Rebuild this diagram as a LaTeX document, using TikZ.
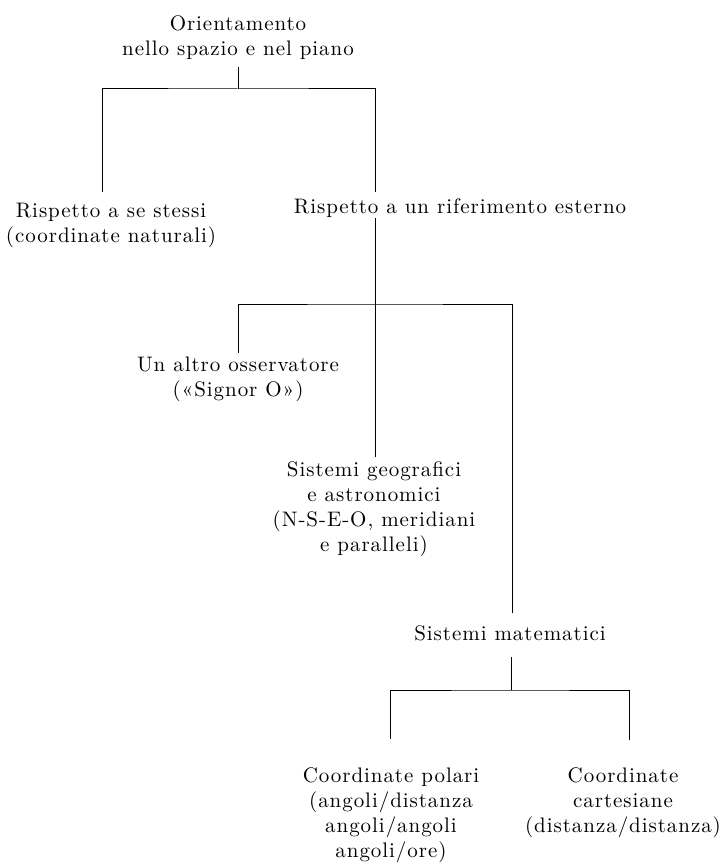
\documentclass[tikz,border=0pt]{standalone}
\usepackage{fontspec}
\setmainfont{lmroman10-regular.otf}[LetterSpace=4.5]

\begin{document}
\begin{tikzpicture}[x=1pt,y=-1pt,
	voce/.style={align=center,inner sep=0pt,font=\fontsize{21}{25}\selectfont},
	ramo/.style={line width=1pt}]
	\useasboundingbox (0,0) rectangle (722,864);

	\node[voce] (orient) at (238,38) {Orientamento\\nello spazio e nel piano};
	\node[voce] (sestessi) at (111,225) {Rispetto a se stessi\\(coordinate naturali)};
	\node[voce] (esterno) at (460,208) {Rispetto a un riferimento esterno};
	\node[voce] (signor) at (238,379) {Un altro osservatore\\(«Signor O»)};
	\node[voce] (geo) at (374,509) {Sistemi geografici\\e astronomici\\(N-S-E-O, meridiani\\e paralleli)};
	\node[voce] (mat) at (510,633) {Sistemi matematici};
	\node[voce] (polari) at (391,815) {Coordinate polari\\(angoli/distanza\\angoli/angoli\\angoli/ore)};
	\node[voce] (cartes) at (623,803) {Coordinate\\cartesiane\\(distanza/distanza)};

	% snodi e capi dei rami
	\coordinate (o1) at (238,67);
	\coordinate (b1) at (238,89);
	\coordinate (sxleg) at (102,192);
	\coordinate (dxleg) at (375,192);
	\coordinate (dxtop) at (375,218);
	\coordinate (b2) at (375,304);
	\coordinate (geoend) at (375,457);
	\coordinate (sigleg) at (238,353);
	\coordinate (matleg) at (512,613);
	\coordinate (mattop) at (511,657);
	\coordinate (b3) at (511,690);
	\coordinate (polleg) at (390,739);
	\coordinate (carleg) at (629,740);

	\draw[ramo] (o1) -- (b1);
	\draw[ramo] (sxleg) |- (b1) -| (dxleg);
	\draw[ramo] (dxtop) -- (geoend);
	\draw[ramo] (sigleg) |- (b2) -| (matleg);
	\draw[ramo] (mattop) -- (b3);
	\draw[ramo] (polleg) |- (b3) -| (carleg);
\end{tikzpicture}
\end{document}
